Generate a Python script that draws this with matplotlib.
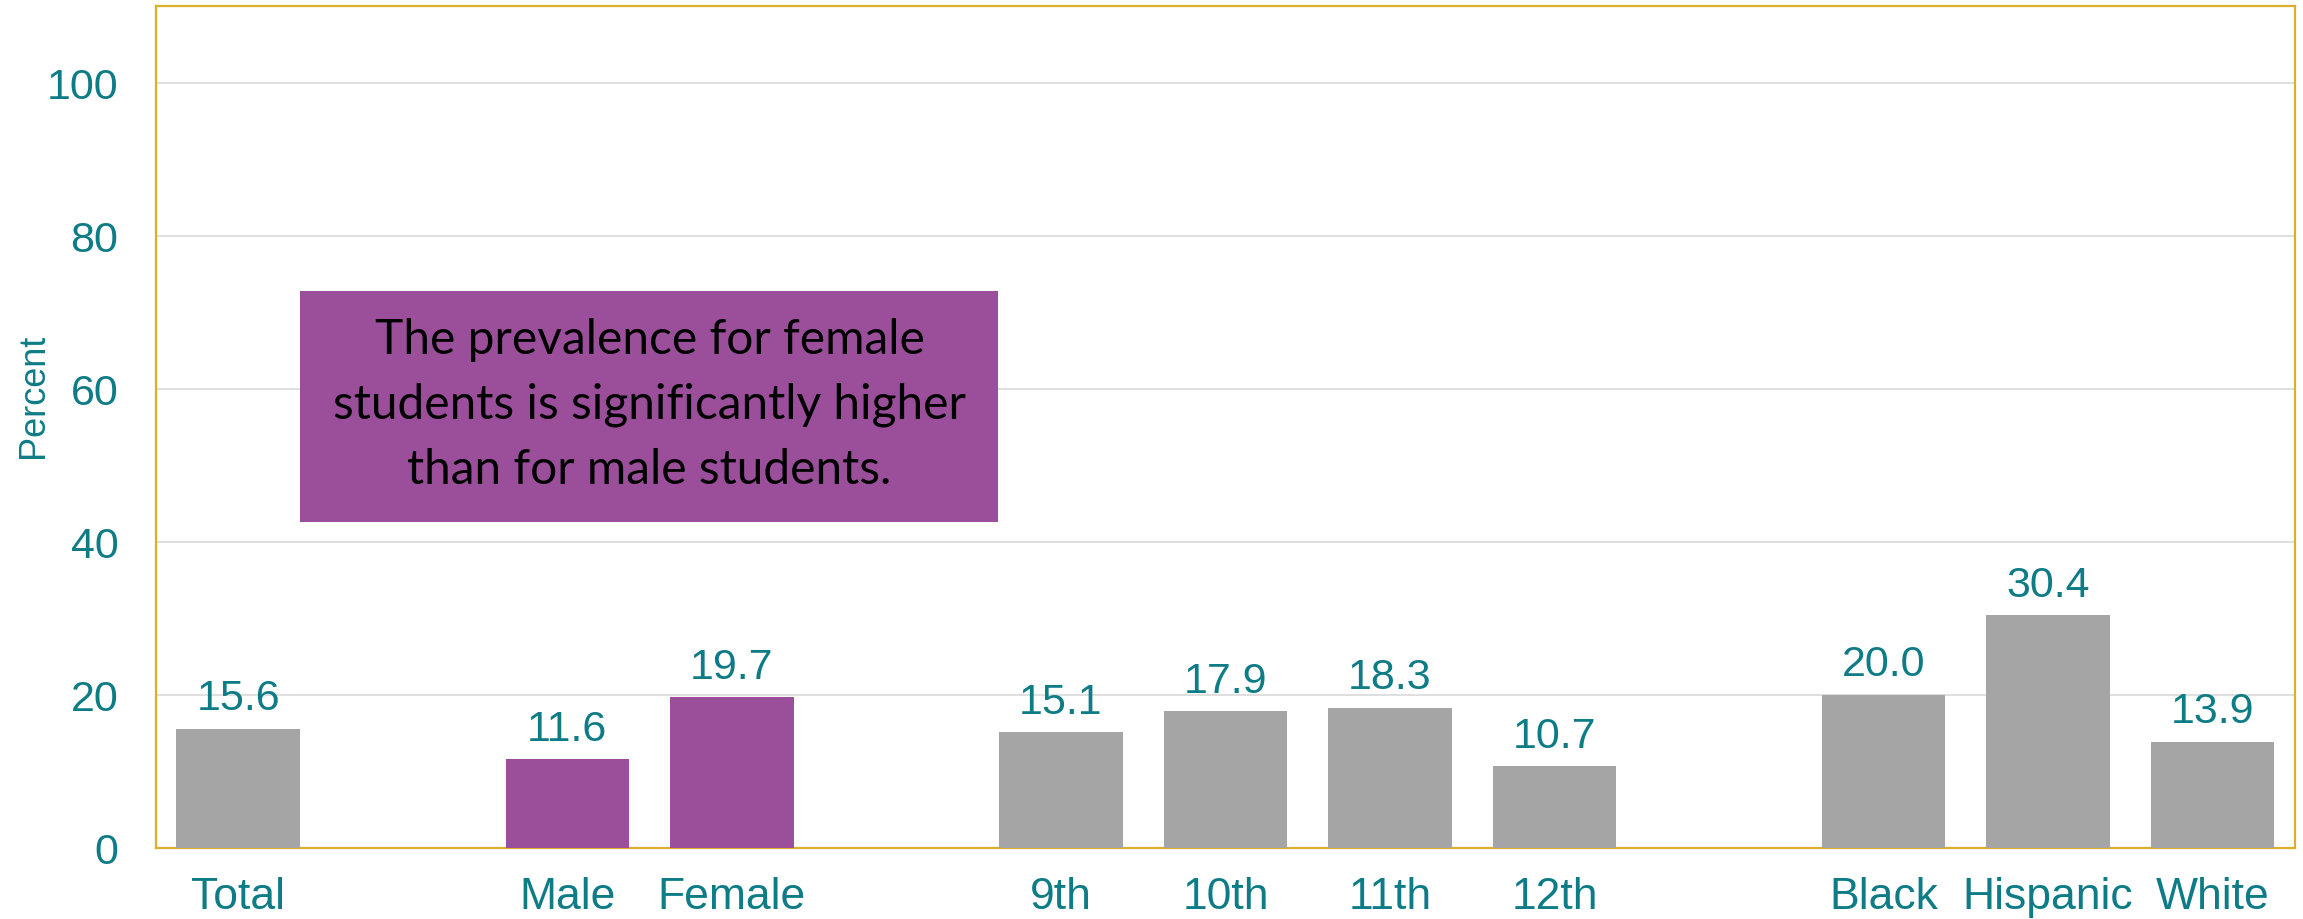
import matplotlib
matplotlib.use("Agg")
import matplotlib.pyplot as plt
from matplotlib.patches import Rectangle

# data
labels = ["Total", "Male", "Female", "9th", "10th", "11th", "12th", "Black", "Hispanic", "White"]
values = [15.6, 11.6, 19.7, 15.1, 17.9, 18.3, 10.7, 20.0, 30.4, 13.9]
groups = ["Total", "Sex", "Sex", "Grade", "Grade", "Grade", "Grade", "Race", "Race", "Race"]
highlight = ["Male", "Female"]
note = "The prevalence for female\nstudents is significantly higher\nthan for male students."

teal = "#0E7C86"
gray = "#A5A5A5"
purple = "#9B4F9B"
gold = "#DDAE2A"

plt.rcParams["font.family"] = ["Liberation Sans", "DejaVu Sans"]

# one empty slot between groups
pos = []
x = 0
for i, g in enumerate(groups):
    if i > 0 and g != groups[i - 1]:
        x = x + 1
    pos.append(x)
    x = x + 1

fig = plt.figure(figsize=(23.03, 9.2), dpi=100)
ax = fig.add_axes([0.0677, 0.0772, 0.9288, 0.9152])

colors = [purple if l in highlight else gray for l in labels]
bars = ax.bar(pos, values, width=0.75, color=colors, zorder=3)

for p, v in zip(pos, values):
    ax.annotate("%.1f" % v, (p, v), xytext=(0, 14), textcoords="offset points",
                ha="center", va="baseline", fontsize=31, color=teal)

ax.set_xlim(-0.5, pos[-1] + 0.5)
ax.set_ylim(0, 110)
ax.set_yticks([0, 20, 40, 60, 80, 100])
ax.set_xticks(pos)
ax.set_xticklabels(labels)
ax.tick_params(axis="x", length=0, pad=20, labelsize=32, labelcolor=teal)
ax.tick_params(axis="y", length=0, pad=27, labelsize=31, labelcolor=teal)
ax.yaxis.grid(True, color="#D9D9D9", linewidth=1.2, zorder=0)
ax.set_axisbelow(True)

for s in ax.spines.values():
    s.set_color(gold)
    s.set_linewidth(1.6)

ax.set_ylabel("Percent", fontsize=26, color=teal)
ax.yaxis.set_label_coords(-0.049, 0.538)

# annotation box
ax.add_patch(Rectangle((0.375, 42.6), 4.245, 30.2, facecolor=purple, edgecolor="none", zorder=4))
ax.text(2.5, 58.0, note, ha="center", va="center", fontsize=34.5, color="black",
        family=["Lato", "DejaVu Sans"], linespacing=1.58, zorder=5)

fig.savefig("out.png", dpi=100)
